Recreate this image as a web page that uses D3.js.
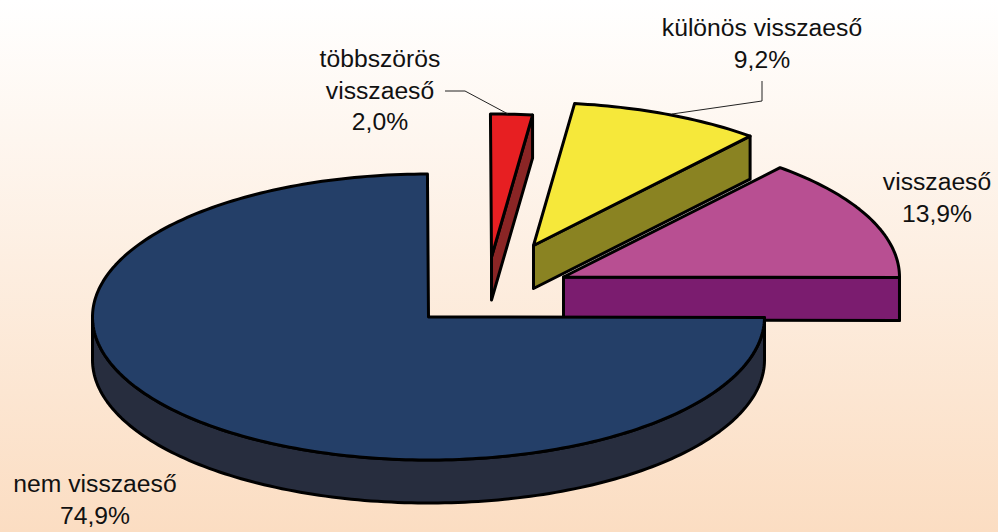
<!DOCTYPE html>
<html>
  <head>
    <meta charset="utf-8" />
    <title>Visszaesők aránya</title>
    <style>
      html, body { margin: 0; padding: 0; background: #fff; }
      svg { display: block; }
      text { font-family: "Liberation Sans", Arial, sans-serif; font-size: 24.7px; fill: #111; }
    </style>
    <script src="https://d3js.org/d3.v7.min.js"></script>
  </head>
  <body>
    <svg id="chart" width="998" height="532"></svg>
    <script>
      // values, clockwise from 12 o'clock
      var categories = ['többszörös visszaeső', 'különös visszaeső', 'visszaeső', 'nem visszaeső'];
      var shares = [2.0, 9.2, 13.9, 74.9];
      var shareLabels = ['2,0%', '9,2%', '13,9%', '74,9%'];

      var topColors = ['#e71f22', '#f6e83a', '#b84f92', '#243f68'];
      var sideColors = ['#8a2525', '#8a8322', '#7b1c6f', '#272d3e'];

      var svg = d3.select('#chart');
      var width = 998, height = 532;

      // layout
      var rx = 336, ry = 143, depth = 43;
      var centers = [[491.5, 257], [533.5, 245.5], [563.5, 277], [428.5, 317]];
      var labelPos = [
        { x: 380, y: 67, lines: ['többszörös', 'visszaeső'] },
        { x: 762, y: 36, lines: ['különös visszaeső'] },
        { x: 937, y: 190, lines: ['visszaeső'] },
        { x: 95, y: 492, lines: ['nem visszaeső'] },
      ];
      var leaders = [
        [[445, 91], [465, 91], [508, 114]],
        [[762, 81], [762, 101], [672, 114]],
      ];

      var defs = svg.append('defs');
      var grad = defs.append('linearGradient')
        .attr('id', 'bg').attr('x1', 0).attr('y1', 0).attr('x2', 0).attr('y2', 1);
      grad.append('stop').attr('offset', '0%').attr('stop-color', '#ffffff');
      grad.append('stop').attr('offset', '100%').attr('stop-color', '#fbddc2');
      svg.append('rect').attr('width', width).attr('height', height).attr('fill', 'url(#bg)');

      var tilt = (-0.18 * Math.PI) / 180;
      var pie = d3.pie().sort(null).startAngle(tilt).endAngle(2 * Math.PI + tilt);
      var arcs = pie(shares);

      var sx = d3.scaleLinear().domain([-1, 1]).range([-rx, rx]);
      var sy = d3.scaleLinear().domain([-1, 1]).range([ry, -ry]);

      // pie angle -> flattened point around a slice centre
      function rim(a, c, dz) {
        return [c[0] + sx(Math.sin(a)), c[1] + sy(Math.cos(a)) + (dz || 0)];
      }
      function rimPoints(a0, a1, c, dz) {
        var n = Math.max(2, Math.ceil((a1 - a0) / 0.02));
        return d3.range(n + 1).map(function (i) {
          return rim(a0 + ((a1 - a0) * i) / n, c, dz);
        });
      }

      var line = d3.line();
      function closed(pts) { return line(pts) + 'Z'; }

      var slices = svg.append('g')
        .attr('stroke', '#000')
        .attr('stroke-width', 3)
        .attr('stroke-linejoin', 'round');

      // back to front, same order as the data
      arcs.forEach(function (d, i) {
        var c = centers[i];
        var g = slices.append('g').attr('class', 'slice');
        var a0 = d.startAngle, a1 = d.endAngle;
        var bottom = [c[0], c[1] + depth];

        // cut face at the end angle
        if (Math.sin(a1) > 0.01) {
          g.append('path')
            .attr('fill', sideColors[i])
            .attr('d', closed([c, rim(a1, c), rim(a1, c, depth), bottom]));
        }

        // outer wall, only the part turned to the viewer
        var w0 = Math.max(a0, Math.PI / 2), w1 = Math.min(a1, (3 * Math.PI) / 2);
        if (w1 > w0) {
          var upper = rimPoints(w0, w1, c, 0);
          var lower = rimPoints(w0, w1, c, depth).reverse();
          g.append('path')
            .attr('fill', sideColors[i])
            .attr('d', closed(upper.concat(lower)));
        }

        g.append('path')
          .attr('fill', topColors[i])
          .attr('d', closed([c].concat(rimPoints(a0, a1, c, 0))));
      });

      svg.append('g')
        .attr('fill', 'none')
        .attr('stroke', '#222')
        .attr('stroke-width', 1)
        .selectAll('path')
        .data(leaders)
        .join('path')
        .attr('d', line);

      categories.forEach(function (name, i) {
        var p = labelPos[i];
        var t = svg.append('text').attr('text-anchor', 'middle').attr('data-name', name);
        p.lines.concat(shareLabels[i]).forEach(function (s, j) {
          t.append('tspan').attr('x', p.x).attr('y', p.y + j * 31.5).text(s);
        });
      });
    </script>
  </body>
</html>
